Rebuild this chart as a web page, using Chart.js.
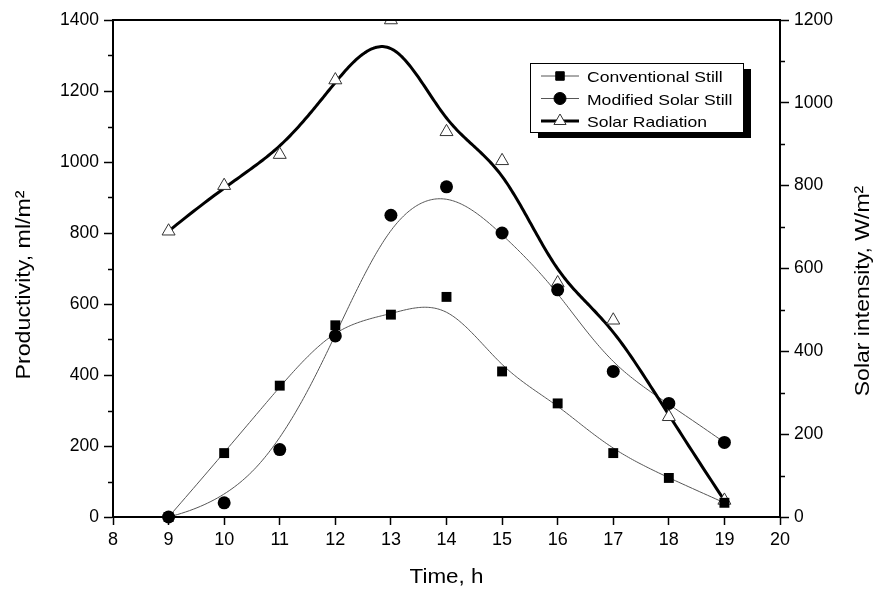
<!DOCTYPE html>
<html>
<head>
<meta charset="utf-8">
<script src="https://cdn.jsdelivr.net/npm/chart.js@4.4.1/dist/chart.umd.min.js"></script>
<style>
  html, body { margin: 0; padding: 0; background: #fff; }
  #wrap { width: 876px; height: 592px; }
</style>
</head>
<body>
<div id="wrap"><canvas id="stillChart"></canvas></div>
<script>
// values
const hours = [9, 10, 11, 12, 13, 14, 15, 16, 17, 18, 19];
const conventional = [0, 180, 370, 540, 570, 620, 410, 320, 180, 110, 40];
const modified = [0, 40, 190, 510, 850, 930, 800, 640, 410, 320, 210];
const radiation = [690, 800, 875, 1055, 1200, 930, 860, 565, 475, 242, 40];

const xRange = [8, 20];
const leftRange = [0, 1400];
const rightRange = [0, 1200];

const xTitle = 'Time, h';
const leftTitle = 'Productivity, ml/m²';
const rightTitle = 'Solar intensity, W/m²';

const FONT = "'Liberation Sans', Arial, sans-serif";

const toPoints = vals => hours.map((h, i) => ({ x: h, y: vals[i] }));

// clamped cubic B-spline with the data points as control points (Origin "B-Spline")
function bsplinePath(pts, steps) {
  const p = 3, n = pts.length - 1;
  const knots = [];
  for (let i = 0; i <= n + p + 1; i++) knots.push(Math.min(Math.max(i - p, 0), n - p + 1));
  const tMax = n - p + 1;
  const out = [];
  for (let s = 0; s <= steps; s++) {
    const t = tMax * s / steps;
    let k = p;
    while (k < n && t >= knots[k + 1]) k++;
    const d = [];
    for (let j = 0; j <= p; j++) d.push({ x: pts[j + k - p].x, y: pts[j + k - p].y });
    for (let r = 1; r <= p; r++) {
      for (let j = p; j >= r; j--) {
        const i = j + k - p;
        const den = knots[i + p - r + 1] - knots[i];
        const a = den === 0 ? 0 : (t - knots[i]) / den;
        d[j] = { x: (1 - a) * d[j - 1].x + a * d[j].x, y: (1 - a) * d[j - 1].y + a * d[j].y };
      }
    }
    out.push(d[p]);
  }
  return out;
}

// text in the figure is a bit wider than plain Arial
function drawText(ctx, text, x, y, rot, sx, font, align) {
  ctx.save();
  ctx.translate(x, y);
  ctx.rotate(rot);
  ctx.scale(sx, 1);
  ctx.font = font;
  ctx.fillStyle = '#000';
  ctx.textAlign = align || 'center';
  ctx.textBaseline = 'alphabetic';
  ctx.fillText(text, 0, 0);
  ctx.restore();
}

const splinePlugin = {
  id: 'splines',
  beforeDatasetsDraw(chart) {
    const ctx = chart.ctx;
    chart.data.datasets.forEach((ds, i) => {
      const meta = chart.getDatasetMeta(i);
      const xs = chart.scales[meta.xAxisID];
      const ys = chart.scales[meta.yAxisID];
      const ctrl = ds.data.map(p => ({ x: xs.getPixelForValue(p.x), y: ys.getPixelForValue(p.y) }));
      const path = bsplinePath(ctrl, 300);
      ctx.save();
      ctx.strokeStyle = ds.splineColor;
      ctx.lineWidth = ds.splineWidth;
      ctx.lineJoin = 'round';
      ctx.beginPath();
      path.forEach((p, j) => j ? ctx.lineTo(p.x, p.y) : ctx.moveTo(p.x, p.y));
      ctx.stroke();
      ctx.restore();
    });
  }
};

// minor ticks, top frame line, axis titles
const framePlugin = {
  id: 'frame',
  afterDraw(chart) {
    const ctx = chart.ctx;
    const { left, right, top, bottom } = chart.chartArea;
    ctx.save();
    ctx.strokeStyle = '#000';
    ctx.lineWidth = 2;
    ctx.beginPath();
    ctx.moveTo(left, top);
    ctx.lineTo(right, top);
    ctx.stroke();
    ctx.lineWidth = 1.5;
    const yl = chart.scales.y, yr = chart.scales.y1;
    for (let v = 100; v < leftRange[1]; v += 200) {
      const py = Math.round(yl.getPixelForValue(v)) + 0.5;
      ctx.beginPath(); ctx.moveTo(left - 5, py); ctx.lineTo(left, py); ctx.stroke();
    }
    for (let v = 100; v < rightRange[1]; v += 200) {
      const py = Math.round(yr.getPixelForValue(v)) + 0.5;
      ctx.beginPath(); ctx.moveTo(right, py); ctx.lineTo(right + 5, py); ctx.stroke();
    }
    ctx.restore();

    const tf = '20px ' + FONT;
    drawText(ctx, xTitle, (left + right) / 2, 583, 0, 1.12, tf);
    drawText(ctx, leftTitle, 30, 285, -Math.PI / 2, 1.16, tf);
    drawText(ctx, rightTitle, 869, 291, -Math.PI / 2, 1.15, tf);
  }
};

const legendPlugin = {
  id: 'boxLegend',
  afterDraw(chart) {
    const ctx = chart.ctx;
    const bx = 530, by = 63, bw = 213, bh = 69;
    ctx.save();
    ctx.fillStyle = '#000';
    ctx.fillRect(bx + 8, by + 6, bw, bh);
    ctx.fillStyle = '#fff';
    ctx.fillRect(bx, by, bw, bh);
    ctx.strokeStyle = '#000';
    ctx.lineWidth = 1;
    ctx.strokeRect(bx + 0.5, by + 0.5, bw, bh);
    chart.data.datasets.forEach((ds, i) => {
      const y = by + 13 + i * 22.5;
      ctx.strokeStyle = ds.splineColor;
      ctx.lineWidth = ds.splineWidth;
      ctx.beginPath(); ctx.moveTo(541, y); ctx.lineTo(579, y); ctx.stroke();
      ctx.fillStyle = ds.pointBackgroundColor;
      ctx.strokeStyle = ds.pointBorderColor;
      ctx.lineWidth = 1;
      Chart.helpers.drawPoint(ctx, {
        pointStyle: ds.pointStyle, radius: ds.legendRadius, rotation: 0, borderWidth: 1
      }, 560, y);
      drawText(ctx, ds.label, 587, y + 6, 0, 1.17, '15px ' + FONT, 'left');
    });
    ctx.restore();
  }
};

const tickLabel = v => (v % 200 === 0 ? String(v) : '');
const majorTick = c => (c.tick && c.tick.value % 200 === 0 ? '#000' : 'rgba(0,0,0,0)');

new Chart(document.getElementById('stillChart'), {
  type: 'scatter',
  data: {
    datasets: [
      {
        label: 'Conventional Still',
        data: toPoints(conventional),
        yAxisID: 'y',
        showLine: false,
        pointStyle: 'rect',
        pointRadius: 7,
        legendRadius: 6,
        pointBackgroundColor: '#000',
        pointBorderColor: '#000',
        pointBorderWidth: 0,
        splineColor: '#555',
        splineWidth: 1,
        clip: false
      },
      {
        label: 'Modified Solar Still',
        data: toPoints(modified),
        yAxisID: 'y',
        showLine: false,
        pointStyle: 'circle',
        pointRadius: 6.5,
        legendRadius: 6,
        pointBackgroundColor: '#000',
        pointBorderColor: '#000',
        pointBorderWidth: 0,
        splineColor: '#555',
        splineWidth: 1,
        clip: false
      },
      {
        label: 'Solar Radiation',
        data: toPoints(radiation),
        yAxisID: 'y1',
        showLine: false,
        pointStyle: 'triangle',
        pointRadius: 7.5,
        legendRadius: 7,
        pointBackgroundColor: '#fff',
        pointBorderColor: '#333',
        pointBorderWidth: 1,
        splineColor: '#000',
        splineWidth: 3,
        clip: { top: 0, left: false, right: false, bottom: false }
      }
    ]
  },
  options: {
    responsive: true,
    maintainAspectRatio: false,
    animation: false,
    layout: { padding: { top: 20, right: 0, left: 0, bottom: 0 } },
    plugins: {
      legend: { display: false },
      tooltip: { enabled: false }
    },
    scales: {
      x: {
        type: 'linear',
        position: 'bottom',
        min: xRange[0],
        max: xRange[1],
        afterFit: s => { s.height = 75; },
        grid: { display: true, drawOnChartArea: false, tickLength: 8, tickColor: '#000', tickWidth: 1.5 },
        border: { display: true, color: '#000', width: 2 },
        ticks: { stepSize: 1, color: '#000', padding: 4, font: { size: 18, family: FONT } }
      },
      y: {
        type: 'linear',
        position: 'left',
        min: leftRange[0],
        max: leftRange[1],
        afterFit: s => { s.width = 113; },
        grid: { display: true, drawOnChartArea: false, tickLength: 9, tickWidth: 1.5, tickColor: majorTick },
        border: { display: true, color: '#000', width: 2 },
        ticks: { stepSize: 100, autoSkip: false, color: '#000', padding: 5, callback: tickLabel, font: { size: 17.5, family: FONT } }
      },
      y1: {
        type: 'linear',
        position: 'right',
        min: rightRange[0],
        max: rightRange[1],
        afterFit: s => { s.width = 96; },
        grid: { display: true, drawOnChartArea: false, tickLength: 9, tickWidth: 1.5, tickColor: majorTick },
        border: { display: true, color: '#000', width: 2 },
        ticks: { stepSize: 100, autoSkip: false, color: '#000', padding: 5, callback: tickLabel, font: { size: 17.5, family: FONT } }
      }
    }
  },
  plugins: [splinePlugin, framePlugin, legendPlugin]
});
</script>
</body>
</html>
